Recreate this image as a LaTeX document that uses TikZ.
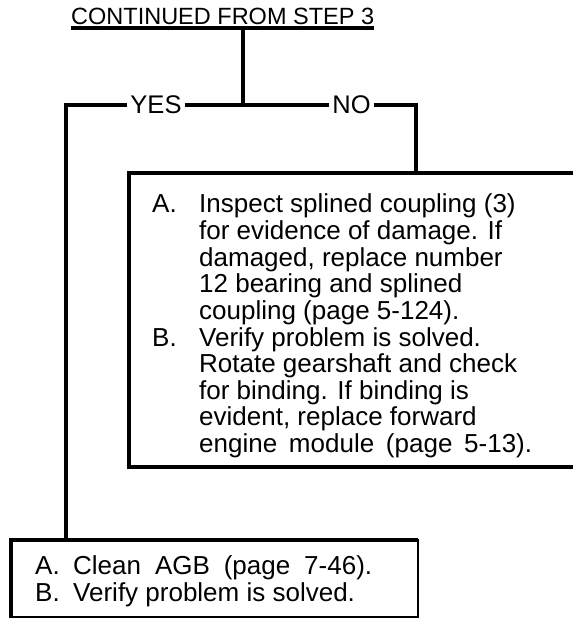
\documentclass[tikz,border=0pt]{standalone}
\usepackage{tikz}
\usepackage{fontspec}
\setmainfont{Liberation Sans}
\usetikzlibrary{positioning}

\tikzset{
  thickline/.style={line width=4.5pt},
  thinline/.style={line width=1.8pt},
  branch/.style={inner sep=3pt, font=\fontsize{25.5}{26}\selectfont},
  stepbox/.style={anchor=north west, inner sep=0pt, align=left},
}

\begin{document}
\begin{tikzpicture}[x=1pt,y=-1pt]
\useasboundingbox (0,0) rectangle (573,618);

\node[anchor=base west, inner sep=0pt, font=\fontsize{23.5}{26}\selectfont] (title) at (71,25) {CONTINUED FROM STEP 3};
\coordinate (ul) at ([yshift=-3pt]title.base);
\coordinate (jn) at (243,105);

\node[branch] (yes) at (156,105) {YES};
\node[branch] (no) at (351.5,105) {NO};
\coordinate (ycorner) at (66,105);
\coordinate (ncorner) at (416,105);

% NO box
\node[stepbox, font=\fontsize{26}{26}\selectfont] (nobox) at (152,193.8) {%
\begin{tabular}{@{}p{47pt}@{}l@{}}
A. & Inspect splined coupling (3)\\
   & for evidence of damage. If\\
   & damaged, replace number\\
   & 12 bearing and splined\\
   & coupling (page 5-124).\\
B. & Verify problem is solved.\\
   & Rotate gearshaft and check\\
   & for binding. If binding is\\
   & evident, replace forward\\
   & \makebox[333pt][s]{engine module (page 5-13).}
\end{tabular}};
\coordinate (ntop) at (129,173);
\draw[thickline] (573,173) -- (ntop) -- (129,467) -- (573,467);

% YES box
\node[stepbox, font=\fontsize{26}{27}\selectfont] (yesbox) at (35,555) {%
\begin{tabular}{@{}p{38pt}@{}l@{}}
A. & \makebox[299pt][s]{Clean AGB (page 7-46).}\\
B. & Verify problem is solved.
\end{tabular}};
\coordinate (ytop) at (11,540);
\draw[thinline] (ytop) rectangle (418,617);
\draw[thickline] (11,618) -- (ytop) -- (418,540);

% connectors
\draw[thickline] ([yshift=-3pt]title.base west) -- ([yshift=-3pt]title.base east);
\draw[thickline] (jn |- ul) -- (jn);
\draw[thickline] (yes.east) -- (no.west);
\draw[thickline] (yes.west) -- (ycorner) -- (ycorner |- ytop);
\draw[thickline] (no.east) -- (ncorner) -- (ncorner |- ntop);
\end{tikzpicture}
\end{document}
